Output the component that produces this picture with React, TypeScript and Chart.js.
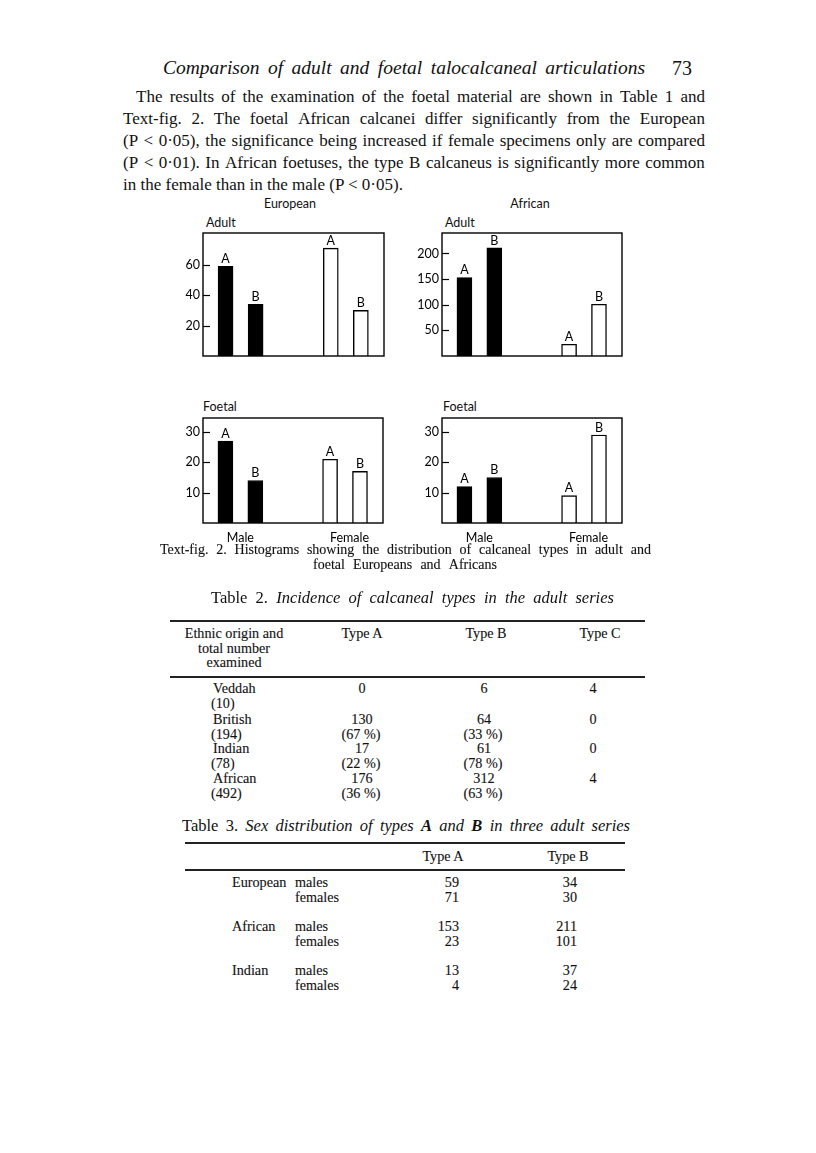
import React, { useEffect, useRef } from "react";
import { Chart, registerables } from "chart.js";

Chart.register(...registerables);

const SANS = "Lato, 'DejaVu Sans', sans-serif";
const SERIF = "'Liberation Serif', 'DejaVu Serif', serif";

// ---------- chart data ----------
const typeLetters = ["A", "B"];
const sexLabels = ["Male", "Female"];

const europeanAdultMale = [59, 34];
const europeanAdultFemale = [71, 30];
const africanAdultMale = [153, 211];
const africanAdultFemale = [23, 101];
const europeanFoetalMale = [27, 14];
const europeanFoetalFemale = [21, 17];
const africanFoetalMale = [12, 15];
const africanFoetalFemale = [9, 29];

const europeanAdultTicks = [20, 40, 60];
const africanAdultTicks = [50, 100, 150, 200];
const foetalTicks = [10, 20, 30];

// ---------- text data ----------
const headerTitle = "Comparison of adult and foetal talocalcaneal articulations";
const pageNumber = "73";
const paragraphLines = [
  "The results of the examination of the foetal material are shown in Table 1 and",
  "Text-fig. 2. The foetal African calcanei differ significantly from the European",
  "(P < 0·05), the significance being increased if female specimens only are compared",
  "(P < 0·01). In African foetuses, the type B calcaneus is significantly more common",
  "in the female than in the male (P < 0·05).",
];
const captionLines = [
  "Text-fig. 2. Histograms showing the distribution of calcaneal types in adult and",
  "foetal Europeans and Africans",
];

const table2Origins = ["Veddah", "British", "Indian", "African"];
const table2Totals = [10, 194, 78, 492];
const table2TypeA = [0, 130, 17, 176];
const table2TypeAPct = [null, 67, 22, 36];
const table2TypeB = [6, 64, 61, 312];
const table2TypeBPct = [null, 33, 78, 63];
const table2TypeC = [4, 0, 0, 4];

const table3Groups = ["European", "African", "Indian"];
const table3Sexes = ["males", "females"];
const table3TypeA = [[59, 71], [153, 23], [13, 4]];
const table3TypeB = [[34, 30], [211, 101], [37, 24]];

// ---------- chart panel ----------
const slotOf = (sex: number, type: number) => 1 + sex * 3.5 + type;
const sexLabelSlots = [1.5, 5.15];

const YW = 44;
const PT = 3;
const PR = 3;

const boxPlugin = {
  id: "boxTicks",
  afterDatasetsDraw(chart: any) {
    const { ctx, chartArea: a, scales } = chart;
    ctx.save();
    ctx.strokeStyle = "#000";
    ctx.lineWidth = 1.4;
    ctx.strokeRect(a.left, a.top, a.right - a.left, a.bottom - a.top);
    ctx.lineWidth = 1.2;
    scales.y.ticks.forEach((t: any) => {
      const y = Math.round(scales.y.getPixelForValue(t.value)) + 0.5;
      ctx.beginPath();
      ctx.moveTo(a.left, y);
      ctx.lineTo(a.left + 7, y);
      ctx.stroke();
    });
    ctx.restore();
  },
};

const letterPlugin = {
  id: "typeLetters",
  afterDatasetsDraw(chart: any) {
    const { ctx } = chart;
    ctx.save();
    ctx.font = `12.5px ${SANS}`;
    ctx.fillStyle = "#000";
    ctx.textAlign = "center";
    ctx.textBaseline = "bottom";
    chart.data.datasets.forEach((_ds: any, di: number) => {
      chart.getDatasetMeta(di).data.forEach((bar: any, i: number) => {
        ctx.fillText(typeLetters[i], bar.x, bar.y - 1);
      });
    });
    ctx.restore();
  },
};

type PanelProps = {
  male: number[];
  female: number[];
  yTicks: number[];
  yMax: number;
  showSex: boolean;
  left: number;
  top: number;
  width: number;
  height: number;
};

function BarPanel(p: PanelProps) {
  const ref = useRef<HTMLCanvasElement | null>(null);
  const XH = p.showSex ? 26 : 3;
  const cw = YW + p.width + PR;
  const ch = PT + p.height + XH;
  useEffect(() => {
    if (!ref.current) return;
    const chart = new Chart(ref.current, {
      type: "bar",
      data: {
        datasets: [
          {
            label: sexLabels[0],
            data: p.male.map((v, i) => ({ x: slotOf(0, i), y: v })),
            backgroundColor: "#000",
            borderColor: "#000",
            borderWidth: 1,
            barThickness: 15,
            grouped: false,
          } as any,
          {
            label: sexLabels[1],
            data: p.female.map((v, i) => ({ x: slotOf(1, i), y: v })),
            backgroundColor: "#fff",
            borderColor: "#000",
            borderWidth: 1.4,
            barThickness: 15,
            grouped: false,
          } as any,
        ],
      },
      options: {
        animation: false,
        responsive: false,
        maintainAspectRatio: false,
        events: [],
        layout: { padding: { top: PT, right: PR, left: 0, bottom: 0 } },
        plugins: {
          legend: { display: false },
          tooltip: { enabled: false },
          title: { display: false },
        },
        scales: {
          x: {
            type: "linear",
            min: 0.25,
            max: 6.27,
            offset: false,
            grid: { display: false, drawTicks: false },
            border: { display: false },
            ticks: {
              display: p.showSex,
              font: { family: SANS, size: 12.5 },
              color: "#000",
              padding: 7,
              maxRotation: 0,
              autoSkip: false,
              callback: (_v: any, i: number) => sexLabels[i],
            },
            afterBuildTicks: (s: any) => {
              s.ticks = p.showSex ? sexLabelSlots.map((v) => ({ value: v })) : [];
            },
            afterFit: (s: any) => {
              s.height = XH;
              s.paddingLeft = 0;
              s.paddingRight = 0;
            },
          },
          y: {
            min: 0,
            max: p.yMax,
            grid: { display: false, drawTicks: false },
            border: { display: false },
            ticks: {
              font: { family: SANS, size: 12.5 },
              color: "#000",
              padding: 3,
            },
            afterBuildTicks: (s: any) => {
              s.ticks = p.yTicks.map((v) => ({ value: v }));
            },
            afterFit: (s: any) => {
              s.width = YW;
              s.paddingTop = 0;
              s.paddingBottom = 0;
            },
          },
        } as any,
      },
      plugins: [boxPlugin, letterPlugin],
    });
    return () => chart.destroy();
  }, []);
  return (
    <canvas
      ref={ref}
      width={cw}
      height={ch}
      style={{ position: "absolute", left: p.left - YW, top: p.top - PT, width: cw, height: ch }}
    />
  );
}

// ---------- text helpers ----------
type Seg = { t: string; i?: boolean; b?: boolean };

const HEAVY = { WebkitTextStroke: "0.12px #111" };

function JLine({
  x,
  y,
  w,
  size,
  segs,
  heavy = false,
}: {
  x: number;
  y: number;
  w: number;
  size: number;
  segs: Seg[];
  heavy?: boolean;
}) {
  const words: Seg[] = [];
  segs.forEach((s) => s.t.split(" ").filter(Boolean).forEach((t) => words.push({ ...s, t })));
  return (
    <div
      style={{
        position: "absolute",
        left: x,
        top: y - 0.55 * size,
        width: w,
        height: size,
        lineHeight: `${size}px`,
        fontSize: size,
        fontFamily: SERIF,
        display: "flex",
        justifyContent: "space-between",
        whiteSpace: "nowrap",
        color: "#111",
        ...(heavy ? HEAVY : {}),
      }}
    >
      {words.map((wd, k) => (
        <span key={k} style={{ fontStyle: wd.i ? "italic" : "normal", fontWeight: wd.b ? "bold" : "normal" }}>
          {wd.t}
        </span>
      ))}
    </div>
  );
}

function Txt({
  x,
  y,
  size = 13,
  align = "left",
  font = SERIF,
  heavy = false,
  children,
}: {
  x: number;
  y: number;
  size?: number;
  align?: "left" | "center" | "right";
  font?: string;
  heavy?: boolean;
  children: any;
}) {
  const W = 300;
  const left = align === "left" ? x : align === "center" ? x - W / 2 : x - W;
  return (
    <div
      style={{
        position: "absolute",
        left,
        top: y - 0.55 * size,
        width: W,
        fontFamily: font,
        fontSize: size,
        lineHeight: `${size}px`,
        textAlign: align,
        whiteSpace: "nowrap",
        color: "#111",
        ...(heavy ? HEAVY : {}),
      }}
    >
      {children}
    </div>
  );
}

function Rule({ x1, x2, y, t = 1.2 }: { x1: number; x2: number; y: number; t?: number }) {
  return <div style={{ position: "absolute", left: x1, top: y - t / 2, width: x2 - x1, height: t, background: "#222" }} />;
}

const pct = (v: number | null) => (v === null ? "" : `(${v} %)`);

export default function App() {
  const paraY = [97, 119, 141, 163, 185];
  const PS = 17;
  const t2Rows = [689, 720, 749, 779];
  const t3Rows = [883, 927, 971];
  const TS = 14.2;
  return (
    <div style={{ position: "absolute", left: 0, top: 0, width: 816, height: 1153, background: "#fff" }}>
      {/* running header */}
      <JLine x={163} y={69} w={482} size={19.5} segs={[{ t: headerTitle, i: true }]} />
      <Txt x={672} y={69} size={20}>{pageNumber}</Txt>

      {/* paragraph */}
      <JLine x={136} y={paraY[0]} w={569} size={PS} segs={[{ t: paragraphLines[0] }]} />
      <JLine x={123} y={paraY[1]} w={582} size={PS} segs={[{ t: paragraphLines[1] }]} />
      <JLine x={123} y={paraY[2]} w={582} size={PS} segs={[{ t: paragraphLines[2] }]} />
      <JLine x={123} y={paraY[3]} w={582} size={PS} segs={[{ t: paragraphLines[3] }]} />
      <Txt x={123} y={paraY[4]} size={PS}>{paragraphLines[4]}</Txt>

      {/* figure headings */}
      <Txt x={290} y={205} size={12.5} align="center" font={SANS}>European</Txt>
      <Txt x={530} y={205} size={12.5} align="center" font={SANS}>African</Txt>
      <Txt x={206} y={224} size={12.5} font={SANS}>Adult</Txt>
      <Txt x={445} y={224} size={12.5} font={SANS}>Adult</Txt>
      <Txt x={203} y={408} size={12.5} font={SANS}>Foetal</Txt>
      <Txt x={443} y={408} size={12.5} font={SANS}>Foetal</Txt>

      <BarPanel male={europeanAdultMale} female={europeanAdultFemale} yTicks={europeanAdultTicks} yMax={81} showSex={false} left={203} top={233} width={181} height={123} />
      <BarPanel male={africanAdultMale} female={africanAdultFemale} yTicks={africanAdultTicks} yMax={240} showSex={false} left={442} top={233} width={180} height={123} />
      <BarPanel male={europeanFoetalMale} female={europeanFoetalFemale} yTicks={foetalTicks} yMax={34.6} showSex={true} left={203} top={418} width={180} height={105} />
      <BarPanel male={africanFoetalMale} female={africanFoetalFemale} yTicks={foetalTicks} yMax={34.6} showSex={true} left={442} top={418} width={180} height={105} />

      {/* caption */}
      <JLine x={160} y={551} w={491} size={14} heavy segs={[{ t: captionLines[0] }]} />
      <JLine x={313} y={566} w={184} size={14} heavy segs={[{ t: captionLines[1] }]} />

      {/* Table 2 */}
      <JLine x={211} y={599} w={403} size={16.5} segs={[{ t: "Table 2." }, { t: "Incidence of calcaneal types in the adult series", i: true }]} />
      <Rule x1={170} x2={645} y={621} t={1.6} />
      <Txt x={234} y={634} size={TS} align="center" heavy>Ethnic origin and</Txt>
      <Txt x={234} y={649} size={TS} align="center" heavy>total number</Txt>
      <Txt x={234} y={663} size={TS} align="center" heavy>examined</Txt>
      <Txt x={362} y={634} size={TS} align="center" heavy>Type A</Txt>
      <Txt x={486} y={634} size={TS} align="center" heavy>Type B</Txt>
      <Txt x={600} y={634} size={TS} align="center" heavy>Type C</Txt>
      <Rule x1={170} x2={645} y={677} t={1.4} />
      {table2Origins.map((o, i) => (
        <React.Fragment key={o}>
          <Txt x={213} y={t2Rows[i]} size={TS} heavy>{o}</Txt>
          <Txt x={211} y={t2Rows[i] + 15} size={TS} heavy>{`(${table2Totals[i]})`}</Txt>
          <Txt x={362} y={t2Rows[i]} size={TS} align="center" heavy>{table2TypeA[i]}</Txt>
          <Txt x={361} y={t2Rows[i] + 15} size={TS} align="center" heavy>{pct(table2TypeAPct[i])}</Txt>
          <Txt x={484} y={t2Rows[i]} size={TS} align="center" heavy>{table2TypeB[i]}</Txt>
          <Txt x={483} y={t2Rows[i] + 15} size={TS} align="center" heavy>{pct(table2TypeBPct[i])}</Txt>
          <Txt x={593} y={t2Rows[i]} size={TS} align="center" heavy>{table2TypeC[i]}</Txt>
        </React.Fragment>
      ))}

      {/* Table 3 */}
      <JLine
        x={182}
        y={827}
        w={448}
        size={16.5}
        segs={[
          { t: "Table 3." },
          { t: "Sex distribution of types", i: true },
          { t: "A", i: true, b: true },
          { t: "and", i: true },
          { t: "B", i: true, b: true },
          { t: "in three adult series", i: true },
        ]}
      />
      <Rule x1={185} x2={625} y={843} t={1.6} />
      <Txt x={443} y={857} size={TS} align="center" heavy>Type A</Txt>
      <Txt x={568} y={857} size={TS} align="center" heavy>Type B</Txt>
      <Rule x1={185} x2={625} y={870} t={1.2} />
      {table3Groups.map((g, gi) => (
        <React.Fragment key={g}>
          <Txt x={232} y={t3Rows[gi]} size={TS} heavy>{g}</Txt>
          {table3Sexes.map((s, si) => (
            <React.Fragment key={s}>
              <Txt x={295} y={t3Rows[gi] + si * 15} size={TS} heavy>{s}</Txt>
              <Txt x={459} y={t3Rows[gi] + si * 15} size={TS} align="right" heavy>{table3TypeA[gi][si]}</Txt>
              <Txt x={577} y={t3Rows[gi] + si * 15} size={TS} align="right" heavy>{table3TypeB[gi][si]}</Txt>
            </React.Fragment>
          ))}
        </React.Fragment>
      ))}
    </div>
  );
}
